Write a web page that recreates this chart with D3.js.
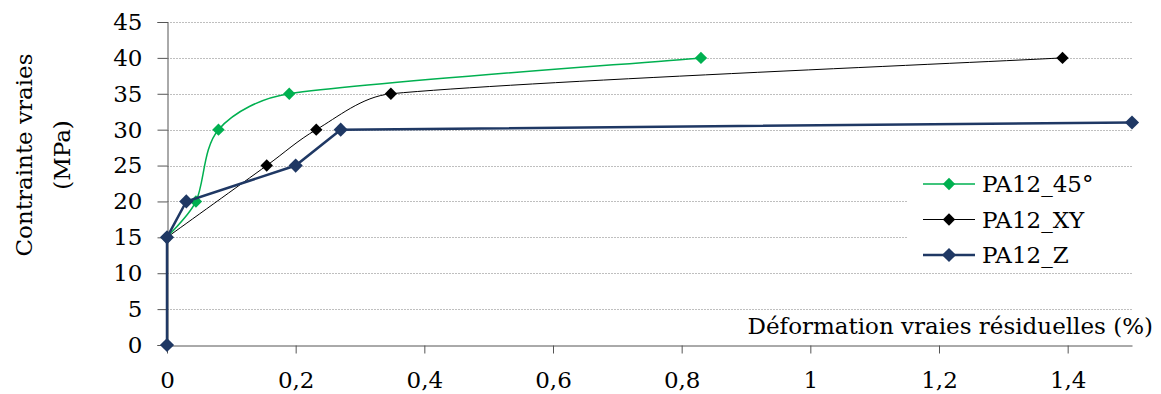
<!DOCTYPE html>
<html><head><meta charset="utf-8">
<script src="https://cdn.jsdelivr.net/npm/d3@7"></script>
<style>body{margin:0;background:#fff}svg{display:block}</style>
</head><body>
<svg id="c" width="1161" height="394"></svg>
<script>
const series45X = [0, 0.045, 0.08, 0.19, 0.83];
const series45Y = [15, 20, 30, 35, 40];
const seriesXYX = [0, 0.155, 0.232, 0.348, 1.392];
const seriesXYY = [15, 25, 30, 35, 40];
const seriesZX = [0, 0, 0.03, 0.2, 0.27, 1.5];
const seriesZY = [0, 15, 20, 25, 30, 31];
const seriesNames = ["PA12_45°", "PA12_XY", "PA12_Z"];
const xTicks = [0, 0.2, 0.4, 0.6, 0.8, 1, 1.2, 1.4];
const yTicks = [0, 5, 10, 15, 20, 25, 30, 35, 40, 45];

const font = "DejaVu Serif";
const fs = 23;
const svg = d3.select("#c");
const x = d3.scaleLinear().domain([0, 1.5]).range([167, 1132]);
const y = d3.scaleLinear().domain([0, 45]).range([345, 22]);

// gridlines
svg.append("g").selectAll("line").data(yTicks.filter(d => d > 0)).join("line")
  .attr("x1", x(0)).attr("x2", x(1.5))
  .attr("y1", d => Math.round(y(d)) + 0.5).attr("y2", d => Math.round(y(d)) + 0.5)
  .attr("stroke", "#bfbfbf").attr("stroke-width", 1).attr("stroke-dasharray", "2,1");

// y axis
const yAxis = svg.append("g").attr("transform", `translate(${x(0) + 0.5},0)`)
  .call(d3.axisLeft(y).tickValues(yTicks).tickSize(10).tickPadding(15).tickFormat(d => d));
yAxis.select(".domain").attr("stroke", "#555");
yAxis.selectAll(".tick line").attr("stroke", "#555");
yAxis.selectAll("text").attr("font-family", font).attr("font-size", fs).attr("fill", "#000");

// x axis
const fmt = d => String(d).replace(".", ",");
const xAxis = svg.append("g").attr("transform", `translate(0,${y(0) + 0.5})`)
  .call(d3.axisBottom(x).tickValues(xTicks).tickSize(8).tickSizeOuter(0).tickPadding(18).tickFormat(fmt));
xAxis.select(".domain").attr("stroke", "#555");
xAxis.selectAll(".tick line").attr("stroke", "#555");
xAxis.selectAll("text").attr("font-family", font).attr("font-size", fs).attr("fill", "#000");

// axis titles
svg.append("text").attr("x", 1153).attr("y", 334).attr("text-anchor", "end")
  .attr("font-family", font).attr("font-size", fs).text("Déformation vraies résiduelles (%)");
const yt = svg.append("text").attr("transform", "translate(24,155) rotate(-90)")
  .attr("text-anchor", "middle").attr("font-family", font).attr("font-size", fs);
yt.append("tspan").attr("x", 0).attr("dy", "0.35em").text("Contrainte vraies");
yt.append("tspan").attr("x", 0).attr("dy", "1.65em").text("(MPa)");

// spreadsheet-style smoothed line: Catmull-Rom tangents, handles limited by segment length
function smoothPath(pts) {
  const n = pts.length, p = d3.path(), k = 0.35;
  const tan = pts.map((q, i) => {
    const a = pts[Math.max(0, i - 1)], b = pts[Math.min(n - 1, i + 1)];
    return [(b[0] - a[0]) / 6, (b[1] - a[1]) / 6];
  });
  const clamp = (t, lim) => {
    const l = Math.hypot(t[0], t[1]);
    return l > lim ? [t[0] * lim / l, t[1] * lim / l] : t;
  };
  p.moveTo(pts[0][0], pts[0][1]);
  for (let i = 0; i < n - 1; i++) {
    const a = pts[i], b = pts[i + 1];
    const seg = Math.hypot(b[0] - a[0], b[1] - a[1]);
    const h1 = clamp(tan[i], k * seg), h2 = clamp(tan[i + 1], k * seg);
    p.bezierCurveTo(a[0] + h1[0], a[1] + h1[1], b[0] - h2[0], b[1] - h2[1], b[0], b[1]);
  }
  return p.toString();
}
const linear = d3.line();

const diamond = d3.symbol().type(d3.symbolDiamond2);
const defs = [
  {xs: seriesXYX, ys: seriesXYY, color: "#000", lw: 1, smooth: true, ms: 7},
  {xs: series45X, ys: series45Y, color: "#00b050", lw: 1.5, smooth: true, ms: 7},
  {xs: seriesZX, ys: seriesZY, color: "#1f3864", lw: 2.5, smooth: false, ms: 8}
];
defs.forEach((s) => {
  const pts = s.xs.map((v, j) => [x(v), y(s.ys[j])]);
  svg.append("path").attr("d", s.smooth ? smoothPath(pts) : linear(pts)).attr("fill", "none")
    .attr("stroke", s.color).attr("stroke-width", s.lw);
  svg.append("g").selectAll("path").data(pts).join("path")
    .attr("d", diamond.size(s.ms * s.ms * 2))
    .attr("transform", d => `translate(${d[0]},${d[1]})`)
    .attr("fill", s.color);
});

// legend
const lg = svg.append("g");
lg.append("rect").attr("x", 908).attr("y", 168).attr("width", 232).attr("height", 104).attr("fill", "#fff");
const legendData = [defs[1], defs[0], defs[2]];
legendData.forEach((s, i) => {
  const cy = 184 + i * 35.5;
  lg.append("line").attr("x1", 923).attr("x2", 975).attr("y1", cy).attr("y2", cy)
    .attr("stroke", s.color).attr("stroke-width", s.lw);
  lg.append("path").attr("d", diamond.size(s.ms * s.ms * 2)).attr("transform", `translate(949,${cy})`).attr("fill", s.color);
  lg.append("text").attr("x", 982).attr("y", cy).attr("dy", "0.35em")
    .attr("font-family", font).attr("font-size", fs).text(seriesNames[i]);
});
</script>
</body></html>
